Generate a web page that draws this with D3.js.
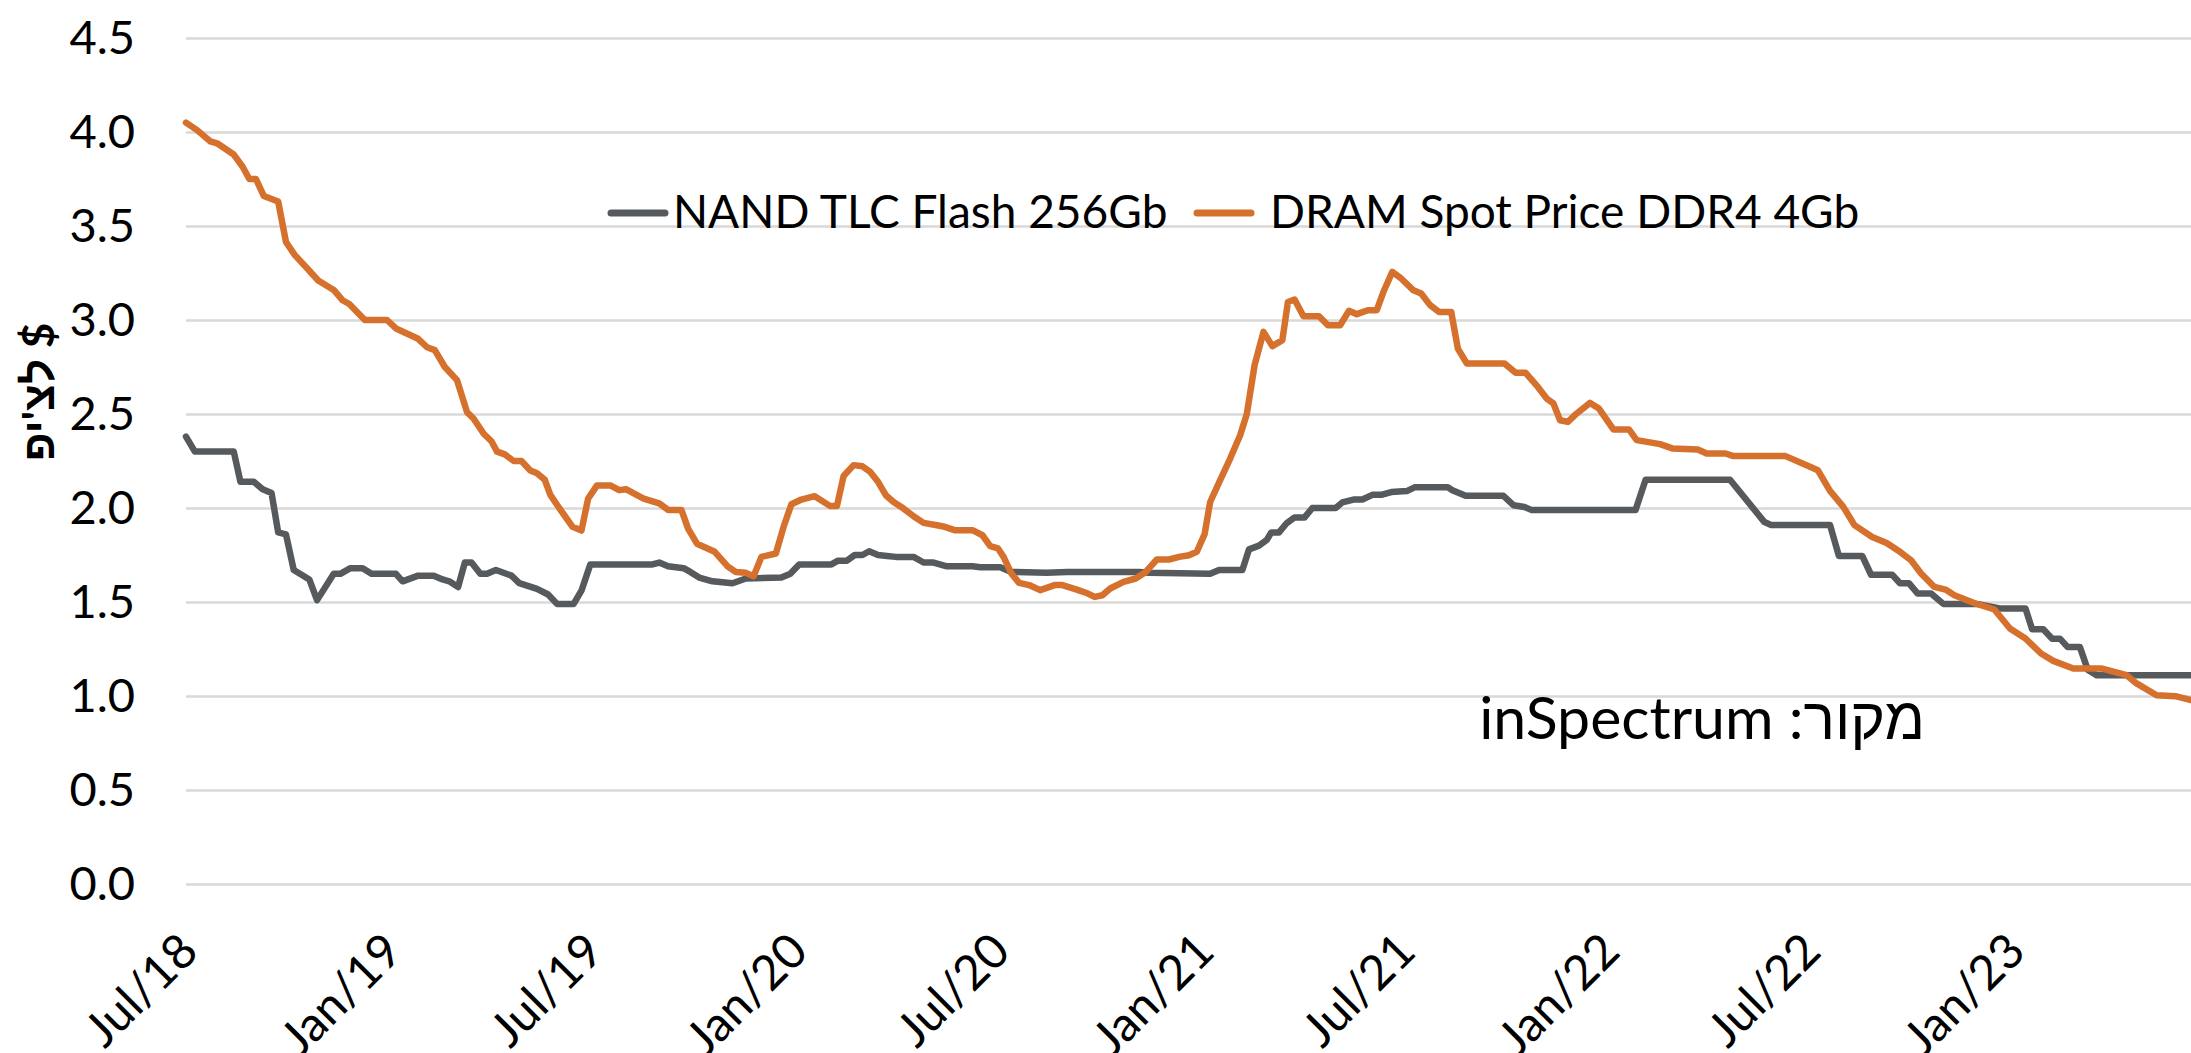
<!DOCTYPE html>
<html>
<head>
<meta charset="utf-8">
<script src="https://cdn.jsdelivr.net/npm/d3@7"></script>
<style>
  html, body { margin: 0; padding: 0; background: #fff; }
  svg { display: block; }
  text { font-family: Lato, "Liberation Sans", "DejaVu Sans", sans-serif; fill: #000; }
</style>
</head>
<body>
<svg id="chart" width="2191" height="1053"></svg>
<script>
const yTicks = [0, 0.5, 1, 1.5, 2, 2.5, 3, 3.5, 4, 4.5];
const xTickDates = ["2018-07-01", "2019-01-01", "2019-07-01", "2020-01-01", "2020-07-01",
  "2021-01-01", "2021-07-01", "2022-01-01", "2022-07-01", "2023-01-01"];
const xTickLabels = ["Jul/18", "Jan/19", "Jul/19", "Jan/20", "Jul/20",
  "Jan/21", "Jul/21", "Jan/22", "Jul/22", "Jan/23"];

const seriesNames = ["NAND TLC Flash 256Gb", "DRAM Spot Price DDR4 4Gb"];
const seriesColors = ["#575a5d", "#d5712d"];

const nandDates = ["2018-07-01", "2018-07-09", "2018-08-13", "2018-08-19", "2018-08-31", "2018-09-08",
  "2018-09-16", "2018-09-22", "2018-09-29", "2018-10-06", "2018-10-20", "2018-10-27", "2018-11-11",
  "2018-11-17", "2018-11-26", "2018-12-07", "2018-12-15", "2019-01-06", "2019-01-12", "2019-01-26",
  "2019-02-09", "2019-02-17", "2019-02-23", "2019-03-03", "2019-03-09", "2019-03-15", "2019-03-23",
  "2019-03-29", "2019-04-06", "2019-04-20", "2019-04-27", "2019-05-13", "2019-05-23", "2019-05-31",
  "2019-06-15", "2019-06-22", "2019-06-30", "2019-08-25", "2019-08-31", "2019-09-08", "2019-09-22",
  "2019-09-28", "2019-10-06", "2019-10-18", "2019-11-05", "2019-11-17", "2019-12-19", "2019-12-27",
  "2020-01-04", "2020-02-02", "2020-02-08", "2020-02-16", "2020-02-23", "2020-03-01", "2020-03-07",
  "2020-03-15", "2020-03-23", "2020-03-31", "2020-04-16", "2020-04-25", "2020-05-04", "2020-05-16",
  "2020-06-08", "2020-06-15", "2020-07-03", "2020-07-13", "2020-08-14", "2020-09-01", "2020-11-05",
  "2020-11-14", "2021-01-08", "2021-01-16", "2021-02-06", "2021-02-12", "2021-02-21", "2021-02-28",
  "2021-03-04", "2021-03-11", "2021-03-18", "2021-03-25", "2021-04-03", "2021-04-10", "2021-05-01",
  "2021-05-07", "2021-05-17", "2021-05-25", "2021-06-03", "2021-06-11", "2021-06-20", "2021-07-04",
  "2021-07-11", "2021-08-10", "2021-08-14", "2021-08-26", "2021-09-29", "2021-10-08", "2021-10-18",
  "2021-10-24", "2022-01-26", "2022-02-04", "2022-04-21", "2022-05-22", "2022-05-28", "2022-07-20",
  "2022-07-28", "2022-08-18", "2022-08-26", "2022-09-14", "2022-09-21", "2022-09-29", "2022-10-07",
  "2022-10-19", "2022-10-30", "2022-11-29", "2022-12-21", "2023-01-12", "2023-01-18", "2023-01-28",
  "2023-02-05", "2023-02-12", "2023-02-19", "2023-03-02", "2023-03-09", "2023-03-17", "2023-06-10"];
const nandValues = [2.38, 2.30, 2.30, 2.14, 2.14, 2.10,
  2.08, 1.87, 1.86, 1.67, 1.62, 1.51, 1.65,
  1.65, 1.68, 1.68, 1.65, 1.65, 1.61, 1.64,
  1.64, 1.62, 1.61, 1.58, 1.71, 1.71, 1.65,
  1.65, 1.67, 1.64, 1.60, 1.57, 1.54, 1.49,
  1.49, 1.56, 1.70, 1.70, 1.71, 1.69, 1.68,
  1.66, 1.63, 1.61, 1.60, 1.625, 1.63, 1.65,
  1.70, 1.70, 1.72, 1.72, 1.75, 1.75, 1.77,
  1.75, 1.745, 1.74, 1.74, 1.71, 1.71, 1.69,
  1.69, 1.685, 1.685, 1.66, 1.655, 1.66, 1.66,
  1.655, 1.65, 1.67, 1.67, 1.78, 1.80, 1.83,
  1.87, 1.87, 1.92, 1.95, 1.95, 2.00, 2.00,
  2.03, 2.045, 2.045, 2.07, 2.07, 2.085, 2.09,
  2.11, 2.11, 2.095, 2.065, 2.065, 2.015, 2.005,
  1.99, 1.99, 2.15, 2.15, 1.925, 1.91, 1.91,
  1.745, 1.745, 1.645, 1.645, 1.60, 1.60, 1.545,
  1.545, 1.49, 1.49, 1.465, 1.465, 1.355, 1.355,
  1.305, 1.305, 1.26, 1.26, 1.14, 1.11, 1.11];

const dramDates = ["2018-07-01", "2018-07-11", "2018-07-23", "2018-07-29", "2018-08-13", "2018-08-21",
  "2018-08-27", "2018-09-02", "2018-09-09", "2018-09-22", "2018-09-29", "2018-10-07", "2018-10-18",
  "2018-10-28", "2018-11-11", "2018-11-19", "2018-11-25", "2018-12-09", "2018-12-29", "2019-01-06",
  "2019-01-26", "2019-02-03", "2019-02-10", "2019-02-19", "2019-03-02", "2019-03-11", "2019-03-17",
  "2019-03-26", "2019-04-02", "2019-04-07", "2019-04-14", "2019-04-22", "2019-04-29", "2019-05-07",
  "2019-05-13", "2019-05-20", "2019-05-25", "2019-06-02", "2019-06-14", "2019-06-22", "2019-06-28",
  "2019-07-06", "2019-07-18", "2019-07-26", "2019-08-01", "2019-08-17", "2019-08-31", "2019-09-08",
  "2019-09-20", "2019-09-26", "2019-10-04", "2019-10-20", "2019-11-01", "2019-11-08", "2019-11-17",
  "2019-11-24", "2019-12-01", "2019-12-14", "2019-12-21", "2019-12-28", "2020-01-06", "2020-01-18",
  "2020-02-01", "2020-02-07", "2020-02-13", "2020-02-22", "2020-03-01", "2020-03-08", "2020-03-15",
  "2020-03-22", "2020-03-29", "2020-04-07", "2020-04-16", "2020-04-25", "2020-05-07", "2020-05-14",
  "2020-05-23", "2020-06-08", "2020-06-17", "2020-06-24", "2020-07-01", "2020-07-06", "2020-07-13",
  "2020-07-20", "2020-07-29", "2020-08-08", "2020-08-21", "2020-08-28", "2020-09-10", "2020-09-20",
  "2020-09-26", "2020-10-03", "2020-10-10", "2020-10-22", "2020-11-02", "2020-11-11", "2020-11-21",
  "2020-12-02", "2020-12-11", "2020-12-20", "2020-12-27", "2021-01-03", "2021-01-08", "2021-01-17",
  "2021-01-26", "2021-02-04", "2021-02-10", "2021-02-17", "2021-02-25", "2021-03-05", "2021-03-14",
  "2021-03-19", "2021-03-25", "2021-04-02", "2021-04-16", "2021-04-24", "2021-05-05", "2021-05-13",
  "2021-05-20", "2021-05-30", "2021-06-07", "2021-06-13", "2021-06-21", "2021-06-28", "2021-07-10",
  "2021-07-17", "2021-07-25", "2021-08-02", "2021-08-13", "2021-08-19", "2021-08-27", "2021-09-30",
  "2021-10-10", "2021-10-19", "2021-10-30", "2021-11-07", "2021-11-13", "2021-11-19", "2021-11-26",
  "2021-12-04", "2021-12-16", "2021-12-24", "2022-01-06", "2022-01-20", "2022-01-27", "2022-02-17",
  "2022-02-28", "2022-03-23", "2022-03-31", "2022-04-17", "2022-04-24", "2022-06-10", "2022-07-02",
  "2022-07-09", "2022-07-20", "2022-08-01", "2022-08-11", "2022-08-27", "2022-09-09", "2022-09-21",
  "2022-10-01", "2022-10-10", "2022-10-22", "2022-11-01", "2022-11-09", "2022-11-28", "2022-12-15",
  "2022-12-29", "2023-01-12", "2023-01-26", "2023-02-06", "2023-02-24", "2023-03-22", "2023-04-13",
  "2023-04-22", "2023-05-10", "2023-05-27", "2023-06-10"];
const dramValues = [4.05, 4.01, 3.95, 3.94, 3.88, 3.815,
  3.75, 3.75, 3.66, 3.63, 3.415, 3.345, 3.275,
  3.21, 3.16, 3.105, 3.085, 3.00, 3.00, 2.955,
  2.90, 2.855, 2.84, 2.75, 2.68, 2.51, 2.475,
  2.395, 2.355, 2.30, 2.285, 2.25, 2.25, 2.20,
  2.185, 2.15, 2.07, 2.00, 1.90, 1.88, 2.05,
  2.12, 2.12, 2.095, 2.10, 2.05, 2.025, 1.99,
  1.99, 1.89, 1.81, 1.767, 1.687, 1.66, 1.655,
  1.637, 1.74, 1.758, 1.90, 2.02, 2.045, 2.063,
  2.01, 2.01, 2.17, 2.228, 2.222, 2.192, 2.139,
  2.068, 2.032, 1.997, 1.956, 1.921, 1.908, 1.90,
  1.882, 1.882, 1.855, 1.797, 1.785, 1.74, 1.652,
  1.602, 1.59, 1.563, 1.59, 1.59, 1.566, 1.545,
  1.527, 1.536, 1.572, 1.607, 1.625, 1.66, 1.726,
  1.726, 1.74, 1.749, 1.767, 1.861, 2.032, 2.148,
  2.263, 2.387, 2.50, 2.76, 2.937, 2.861, 2.893,
  3.096, 3.109, 3.02, 3.02, 2.972, 2.972, 3.049,
  3.031, 3.052, 3.052, 3.15, 3.256, 3.226, 3.158,
  3.141, 3.079, 3.043, 3.043, 2.848, 2.769, 2.769,
  2.719, 2.719, 2.644, 2.582, 2.556, 2.467, 2.458,
  2.503, 2.559, 2.529, 2.418, 2.418, 2.361, 2.34,
  2.317, 2.311, 2.29, 2.29, 2.276, 2.276, 2.219,
  2.201, 2.091, 2.006, 1.909, 1.846, 1.814, 1.767,
  1.722, 1.652, 1.58, 1.566, 1.536, 1.492, 1.46,
  1.359, 1.306, 1.226, 1.187, 1.146, 1.146, 1.111,
  1.067, 1.004, 0.999, 0.978];

const yTitle = "לצ'יפ $";
const sourceText = "מקור: inSpectrum";

const parse = d3.timeParse("%Y-%m-%d");
const svg = d3.select("#chart");
const plotLeft = 186, plotRight = 2191, plotTop = 38, plotBottom = 884;

const x = d3.scaleTime()
  .domain([parse("2018-07-01"), parse("2023-06-10")])
  .range([plotLeft, plotRight]);
const y = d3.scaleLinear().domain([0, 4.5]).range([plotBottom, plotTop]);

// grid + y labels
const yAxis = svg.append("g")
  .attr("transform", `translate(${plotLeft},0)`)
  .call(d3.axisLeft(y).tickValues(yTicks).tickFormat(d3.format(".1f"))
    .tickSize(-(plotRight - plotLeft)).tickPadding(51));
yAxis.select(".domain").remove();
yAxis.selectAll(".tick line").attr("stroke", "#d9d9d9").attr("stroke-width", 2.5);
yAxis.selectAll(".tick text").attr("font-size", 47).attr("fill", "#000")
  .style("font-family", "Lato, 'Liberation Sans', sans-serif");

// x labels, rotated like the reference (the bottom row is cut by the frame there too)
const xAxis = svg.append("g")
  .attr("transform", `translate(0,${plotBottom})`)
  .call(d3.axisBottom(x).tickValues(xTickDates.map(parse))
    .tickFormat((d, i) => xTickLabels[i]).tickSize(0));
xAxis.select(".domain").remove();
xAxis.selectAll(".tick text")
  .attr("font-size", 48).attr("fill", "#000")
  .style("font-family", "Lato, 'Liberation Sans', sans-serif")
  .attr("text-anchor", "end")
  .attr("x", 0).attr("y", 0).attr("dy", "0.35em")
  .attr("transform", "translate(2,58) rotate(-45)");

// lines
const line = d3.line().x(d => x(d.date)).y(d => y(d.value));
const series = [
  nandDates.map((d, i) => ({ date: parse(d), value: nandValues[i] })),
  dramDates.map((d, i) => ({ date: parse(d), value: dramValues[i] })),
];
series.forEach((s, i) => {
  svg.append("path")
    .datum(s)
    .attr("fill", "none")
    .attr("stroke", seriesColors[i])
    .attr("stroke-width", 6.5)
    .attr("stroke-linejoin", "round")
    .attr("stroke-linecap", "round")
    .attr("d", line);
});

// legend
const legendX = [611, 1197];
const legend = svg.append("g");
seriesNames.forEach((name, i) => {
  legend.append("line")
    .attr("x1", legendX[i]).attr("x2", legendX[i] + 54)
    .attr("y1", 213).attr("y2", 213)
    .attr("stroke", seriesColors[i]).attr("stroke-width", 7)
    .attr("stroke-linecap", "round");
  legend.append("text")
    .attr("x", legendX[i] + (i === 0 ? 62 : 73))
    .attr("y", 228)
    .attr("font-size", 46)
    .text(name);
});

// axis title
svg.append("text")
  .attr("transform", "translate(54,392) rotate(-90)")
  .attr("text-anchor", "middle")
  .attr("font-size", 44)
  .attr("font-weight", "bold")
  .text(yTitle);

// source note
svg.append("text")
  .attr("x", 1925).attr("y", 739)
  .attr("font-size", 59)
  .attr("direction", "rtl")
  .attr("text-anchor", "start")
  .style("direction", "rtl")
  .text(sourceText);
</script>
</body>
</html>
